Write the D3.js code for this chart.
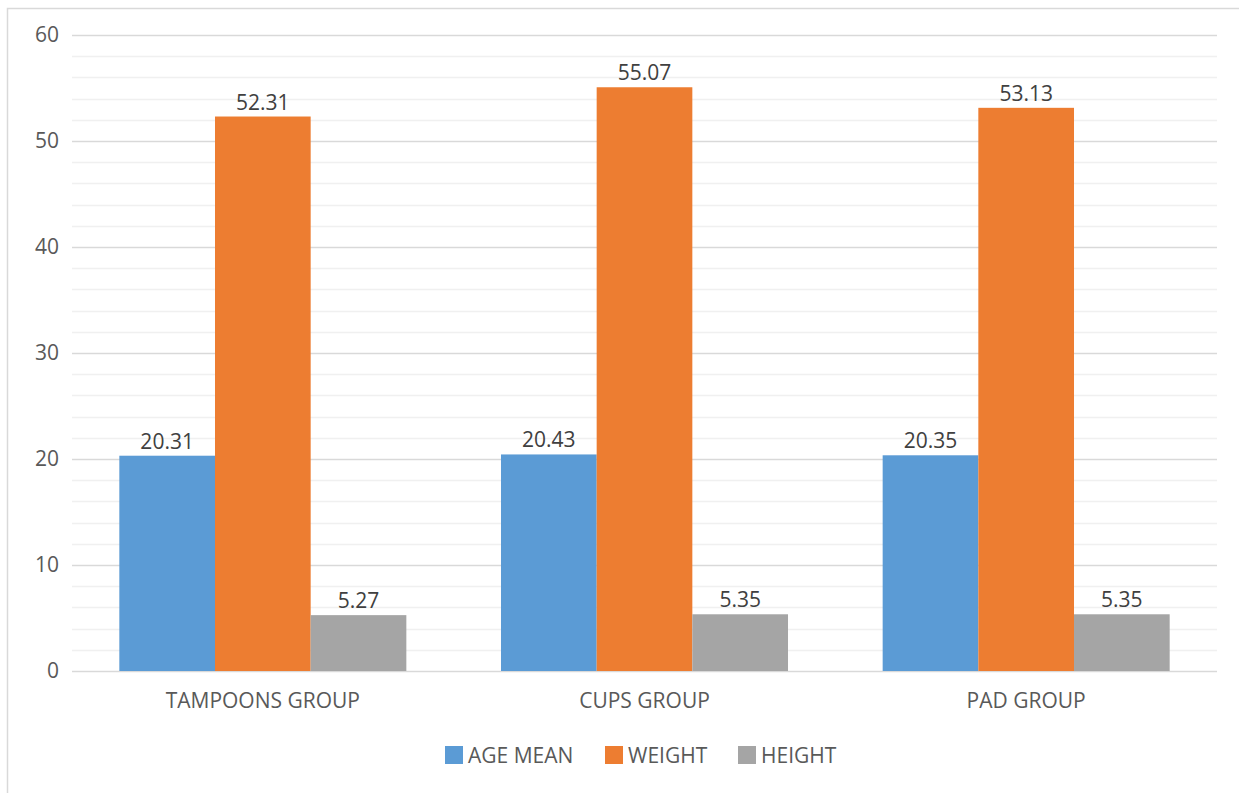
<!DOCTYPE html>
<html>
<head>
<meta charset="utf-8">
<script src="https://cdn.jsdelivr.net/npm/d3@7"></script>
<style>
  body { margin: 0; background: #fff; }
  text { font-family: "Open Sans", sans-serif; }
</style>
</head>
<body>
<svg id="chart"></svg>
<script>
// data
var groups = ["TAMPOONS GROUP", "CUPS GROUP", "PAD GROUP"];
var seriesNames = ["AGE MEAN", "WEIGHT", "HEIGHT"];
var ageMean = [20.31, 20.43, 20.35];
var weight = [52.31, 55.07, 53.13];
var height_ = [5.27, 5.35, 5.35];
var yTicks = [0, 10, 20, 30, 40, 50, 60];
var colors = ["#5b9bd5", "#ed7d31", "#a5a5a5"];

var W = 1239, H = 793;
var margin = {top: 35, right: 22, bottom: 122, left: 72},
    width = W - margin.left - margin.right,
    height = H - margin.top - margin.bottom;

var svg = d3.select("#chart")
    .attr("width", W)
    .attr("height", H);

// chart border
svg.append("rect")
    .attr("x", 7.5).attr("y", 8.5)
    .attr("width", W + 10).attr("height", H + 10)
    .attr("fill", "none")
    .attr("stroke", "#d9d9d9")
    .attr("stroke-width", 1.5);

var g = svg.append("g")
    .attr("transform", "translate(" + margin.left + "," + margin.top + ")");

var y = d3.scaleLinear().domain([0, 60]).range([height, 0]);
var x0 = d3.scaleBand().domain(groups).range([0, width]).paddingInner(0.248).paddingOuter(0.124);
var x1 = d3.scaleBand().domain(seriesNames).range([0, x0.bandwidth()]).padding(0);

// minor gridlines
g.append("g").selectAll("line")
    .data(d3.range(2, 60, 2).filter(function(d) { return d % 10 != 0; }))
    .enter().append("line")
    .attr("x1", 0).attr("x2", width)
    .attr("y1", function(d) { return Math.round(y(d)) + 0.5; })
    .attr("y2", function(d) { return Math.round(y(d)) + 0.5; })
    .attr("stroke", "#f0f0f0")
    .attr("stroke-width", 1.5);

// major gridlines
g.append("g").selectAll("line")
    .data(yTicks)
    .enter().append("line")
    .attr("x1", 0).attr("x2", width)
    .attr("y1", function(d) { return Math.round(y(d)) + 0.5; })
    .attr("y2", function(d) { return Math.round(y(d)) + 0.5; })
    .attr("stroke", "#d9d9d9")
    .attr("stroke-width", 1.5);

// y labels
g.append("g").selectAll("text")
    .data(yTicks)
    .enter().append("text")
    .attr("x", -13)
    .attr("y", function(d) { return y(d); })
    .attr("dy", "0.35em")
    .attr("text-anchor", "end")
    .attr("fill", "#595959")
    .style("font-size", "21px")
    .text(function(d) { return d; });

var rows = groups.map(function(gname, i) {
  return {group: gname, values: [ageMean[i], weight[i], height_[i]]};
});

var grp = g.selectAll(".grp")
    .data(rows)
    .enter().append("g")
    .attr("class", "grp")
    .attr("transform", function(d) { return "translate(" + x0(d.group) + ",0)"; });

grp.selectAll("rect")
    .data(function(d) { return d.values.map(function(v, j) { return {s: seriesNames[j], v: v, c: colors[j]}; }); })
    .enter().append("rect")
    .attr("x", function(d) { return x1(d.s); })
    .attr("y", function(d) { return y(d.v); })
    .attr("width", x1.bandwidth())
    .attr("height", function(d) { return height - y(d.v); })
    .attr("fill", function(d) { return d.c; });

grp.selectAll("text.val")
    .data(function(d) { return d.values.map(function(v, j) { return {s: seriesNames[j], v: v}; }); })
    .enter().append("text")
    .attr("class", "val")
    .attr("x", function(d) { return x1(d.s) + x1.bandwidth() / 2; })
    .attr("y", function(d) { return y(d.v) - 7; })
    .attr("text-anchor", "middle")
    .attr("fill", "#404040")
    .style("font-size", "21px")
    .text(function(d) { return d3.format(".2f")(d.v); });

// x labels
g.append("g").selectAll("text")
    .data(groups)
    .enter().append("text")
    .attr("x", function(d) { return x0(d) + x0.bandwidth() / 2; })
    .attr("y", height + 37)
    .attr("text-anchor", "middle")
    .attr("fill", "#595959")
    .style("font-size", "21px")
    .text(function(d) { return d; });

// legend
var legendX = [445, 605, 738];
var legend = svg.append("g").selectAll("g")
    .data(seriesNames)
    .enter().append("g")
    .attr("transform", function(d, i) { return "translate(" + legendX[i] + ",746)"; });
legend.append("rect")
    .attr("width", 18).attr("height", 18)
    .attr("fill", function(d, i) { return colors[i]; });
legend.append("text")
    .attr("x", 23).attr("y", 10)
    .attr("dy", "0.35em")
    .attr("fill", "#595959")
    .style("font-size", "21px")
    .text(function(d) { return d; });
</script>
</body>
</html>
